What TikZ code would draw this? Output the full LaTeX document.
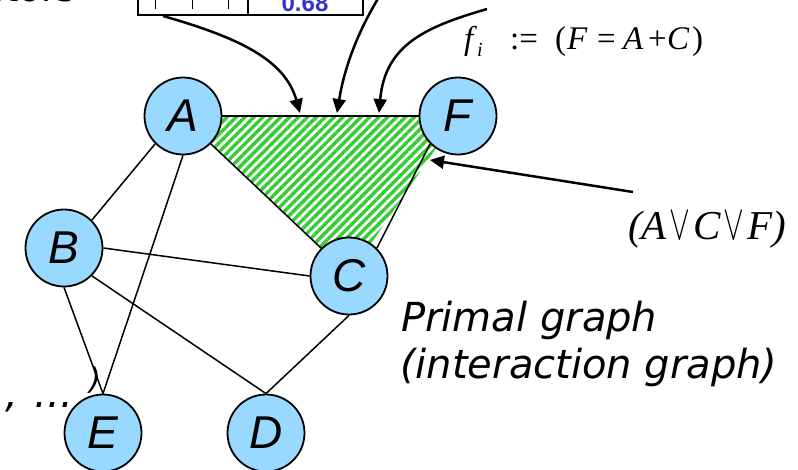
\documentclass[tikz,border=0pt]{standalone}
\usepackage{fontspec}
\usetikzlibrary{arrows.meta,patterns.meta,backgrounds}
\newfontfamily\lsans{Liberation Sans}
\newfontfamily\lserif{Liberation Serif}
\newfontfamily\dvsans{DejaVu Sans}
\newcommand\orsym{\hspace{3pt}{\Huge\scalebox{1.25}[2]{$\vee$}}\hspace{3pt}}
\definecolor{nodeblue}{RGB}{153,217,255}
\definecolor{hatchgreen}{RGB}{51,204,51}
\definecolor{valblue}{RGB}{51,51,204}
\begin{document}
\begin{tikzpicture}[x=1pt,y=-1pt,
  var/.style={circle,draw=black,line width=1.8pt,fill=nodeblue,minimum size=77pt,inner sep=0pt,
    font=\lsans\itshape\fontsize{46}{46}\selectfont},
  edge/.style={line width=1.5pt},
  callout/.style={line width=2.5pt,-{Triangle[length=14pt,width=13pt]}},
  txt/.style={inner sep=0pt},
  slidefont/.style={font=\dvsans\itshape\fontsize{40}{40}\selectfont}]
\useasboundingbox (0,0) rectangle (798,469);

% cut-off texts at the borders
\node[txt,anchor=base east,font=\dvsans\fontsize{37}{37}\selectfont] (toptxt) at (76,1) {factors};
\node[txt,anchor=base east,slidefont] (bltxt) at (73,407) {,\hspace{16pt}...};
\node[txt,font=\dvsans\itshape\fontsize{30}{30}\selectfont] (paren) at (95,380) {)};

% table fragment
\node[draw,line width=2pt,minimum width=225pt,minimum height=56pt,inner sep=0pt,anchor=south west] (tbl) at (137,16) {};
\coordinate (div) at (248,16);
\draw[line width=2pt] (div) -- ++(0,-60);
\foreach \x in {155,192,228} \draw[line width=1pt] (\x,-5) -- (\x,9);
\node[txt,anchor=base,text=valblue,font=\lsans\bfseries\fontsize{24}{24}\selectfont] (val) at (305,11) {0.68};

% formula
\node[txt,anchor=base west,font=\lserif\fontsize{33}{33}\selectfont] (fi) at (464,49)
 {\makebox[46pt][l]{\textit{f}\raisebox{-7pt}{\fontsize{20}{20}\selectfont\textit{i}}}\makebox[45pt][l]{:=}\makebox[12pt][l]{(}\makebox[30pt][l]{\textit{F}}\makebox[26pt][l]{=}\makebox[25pt][l]{\textit{A}}\makebox[19pt][l]{+}\makebox[25pt][l]{\textit{C}})};

% clause label
\node[txt,anchor=base west,font=\lserif\itshape\fontsize{41}{41}\selectfont] (clause) at (628,239)
 {(A\orsym C\orsym F)};

% caption
\node[txt,anchor=base west,slidefont] (cap1) at (401,331) {Primal graph};
\node[txt,anchor=base west,slidefont] (cap2) at (400,378) {(interaction graph)};

% variables
\node[var] (A) at (183,116) {A};
\node[var] (F) at (458,116) {F};
\node[var] (B) at (64,248) {B};
\node[var] (C) at (349,276) {C};
\node[var] (E) at (103,433) {E};
\node[var] (D) at (266,433) {D};

% hatched hyperedge
\begin{scope}[on background layer]
  \fill[pattern={Lines[angle=45,distance=6.3pt,line width=3.4pt]},pattern color=hatchgreen]
    (A.center) -- (F.center) -- (C.center) -- cycle;
\end{scope}

% edges
\draw[edge] (A.east) -- (F.west);
\draw[edge] (A.south east) -- (C.north west);
\draw[edge] (F.south west) -- (C.north east);
\draw[edge] (A.south west) -- (B.north east);
\draw[edge] (A.south) -- (E.north);
\draw[edge] (B.east) -- (C.west);
\draw[edge] (B.south) -- (E.north);
\draw[edge] (B.south east) -- (D.north);
\draw[edge] (C.south) -- (D.north);

% callout arrows
\coordinate (t1) at (300,113);
\coordinate (t2) at (337,113);
\coordinate (t3) at (379,113);
\coordinate (t4) at (430,160);
\coordinate (s2) at (379,-3);
\coordinate (s3) at (487,9);
\coordinate (s4) at (633,192);
\draw[callout] ([xshift=26pt]tbl.south west) .. controls (240,38) and (285,60) .. (t1);
\draw[callout] (s2) .. controls (356,35) and (344,70) .. (t2);
\draw[callout] (s3) .. controls (425,27) and (385,45) .. (t3);
\draw[callout] (s4) -- (t4);
\end{tikzpicture}
\end{document}
